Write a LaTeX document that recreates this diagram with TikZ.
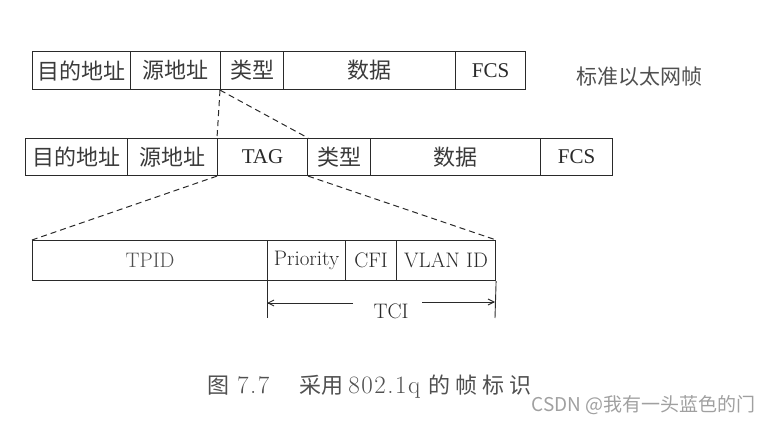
\documentclass[tikz,border=0pt]{standalone}
\usepackage{fontspec}
\newfontfamily\cjk{Noto Sans CJK SC}
\newfontfamily\serf{Liberation Serif}
\newfontfamily\capnum{Latin Modern Roman}[LetterSpace=6]
\usetikzlibrary{arrows.meta}
\definecolor{ink}{HTML}{2A2A2A}
\definecolor{cnk}{HTML}{3A3A3A}
\definecolor{faint}{HTML}{505050}
\definecolor{wm}{HTML}{A0A0A0}
\tikzset{
  fbox/.style={draw=ink, line width=1.1pt, inner sep=0pt, anchor=north west, text=ink,
    font=\fontsize{21}{23}\selectfont},
  cn/.style={text=cnk, font=\cjk\fontsize{22}{24}\selectfont},
  lat/.style={font=\serf\fontsize{21}{23}\selectfont},
  dsh/.style={draw=ink, line width=1pt, dash pattern=on 6pt off 4pt},
  tick/.style={draw=ink, line width=0.9pt},
  arr/.style={draw=ink, line width=0.9pt, -{Straight Barb[length=6pt,width=6pt]}}
}
\newcommand{\capcn}{\cjk\fontsize{22}{24}\selectfont}
\begin{document}
\begin{tikzpicture}[x=1pt,y=-1pt]
\useasboundingbox (0,0) rectangle (771,422);
% Row 1
\node[fbox,cn,minimum width=98pt,minimum height=38pt] (a1) at (32,51) {目的地址};
\node[fbox,cn,minimum width=90pt,minimum height=38pt] (a2) at (130,51) {源地址};
\node[fbox,cn,minimum width=63pt,minimum height=38pt] (a3) at (220,51) {类型};
\node[fbox,cn,minimum width=172pt,minimum height=38pt] (a4) at (283,51) {数据};
\node[fbox,lat,minimum width=70pt,minimum height=38pt] (a5) at (455,51) {FCS};
\node[text=faint, font=\cjk\fontsize{21}{23}\selectfont] (lbl) at (639,77) {标准以太网帧};
% Row 2
\node[fbox,cn,minimum width=102pt,minimum height=37pt] (b1) at (25,138) {目的地址};
\node[fbox,cn,minimum width=90pt,minimum height=37pt] (b2) at (127,138) {源地址};
\node[fbox,lat,minimum width=90pt,minimum height=37pt] (b3) at (217,138) {TAG};
\node[fbox,cn,minimum width=63pt,minimum height=37pt] (b4) at (307,138) {类型};
\node[fbox,cn,minimum width=170pt,minimum height=37pt] (b5) at (370,138) {数据};
\node[fbox,lat,minimum width=72pt,minimum height=37pt] (b6) at (540,138) {FCS};
% Row 3
\node[fbox,minimum width=235pt,minimum height=40pt,text=faint] (c1) at (32,240) {TPID};
\node[fbox,minimum width=78pt,minimum height=40pt] (c2) at (267,240) {Priority};
\node[fbox,minimum width=51pt,minimum height=40pt] (c3) at (345,240) {CFI};
\node[fbox,minimum width=99pt,minimum height=40pt] (c4) at (396,240) {VLAN ID};
% dashed expansions
\draw[dsh] (a3.south west) -- (b3.north west);
\draw[dsh] (a3.south west) -- (b3.north east);
\draw[dsh] (b3.south west) -- (c1.north west);
\draw[dsh] (b3.south east) -- (c4.north east);
% TCI
\coordinate (tl) at (267,318);
\coordinate (tr) at (495,318);
\coordinate (al) at (353,303);
\coordinate (ar) at (422,302);
\coordinate (el) at (267,303);
\coordinate (er) at (495,302);
\draw[tick] (c2.south west) -- (tl);
\draw[tick] (c4.south east) -- (tr);
\draw[arr] (al) -- (el);
\draw[arr] (ar) -- (er);
\node[text=ink, font=\fontsize{21}{23}\selectfont] (tci) at (391,311) {TCI};
% caption
\node[text=faint, anchor=base west, inner sep=0pt, font=\capnum\fontsize{25}{27}\selectfont] (cap) at (207,393)
  {{\capcn 图}\hspace{8pt}7.7\hspace{30pt}{\capcn 采用}\hspace{5pt}802.1q\hspace{8pt}{\capcn 的\hspace{5pt}帧\hspace{5pt}标\hspace{5pt}识}};
\node[text=wm, anchor=east, inner sep=0pt, font=\cjk\fontsize{19}{21}\selectfont] (wmk) at (756,405) {CSDN @我有一头蓝色的门};
\end{tikzpicture}
\end{document}
